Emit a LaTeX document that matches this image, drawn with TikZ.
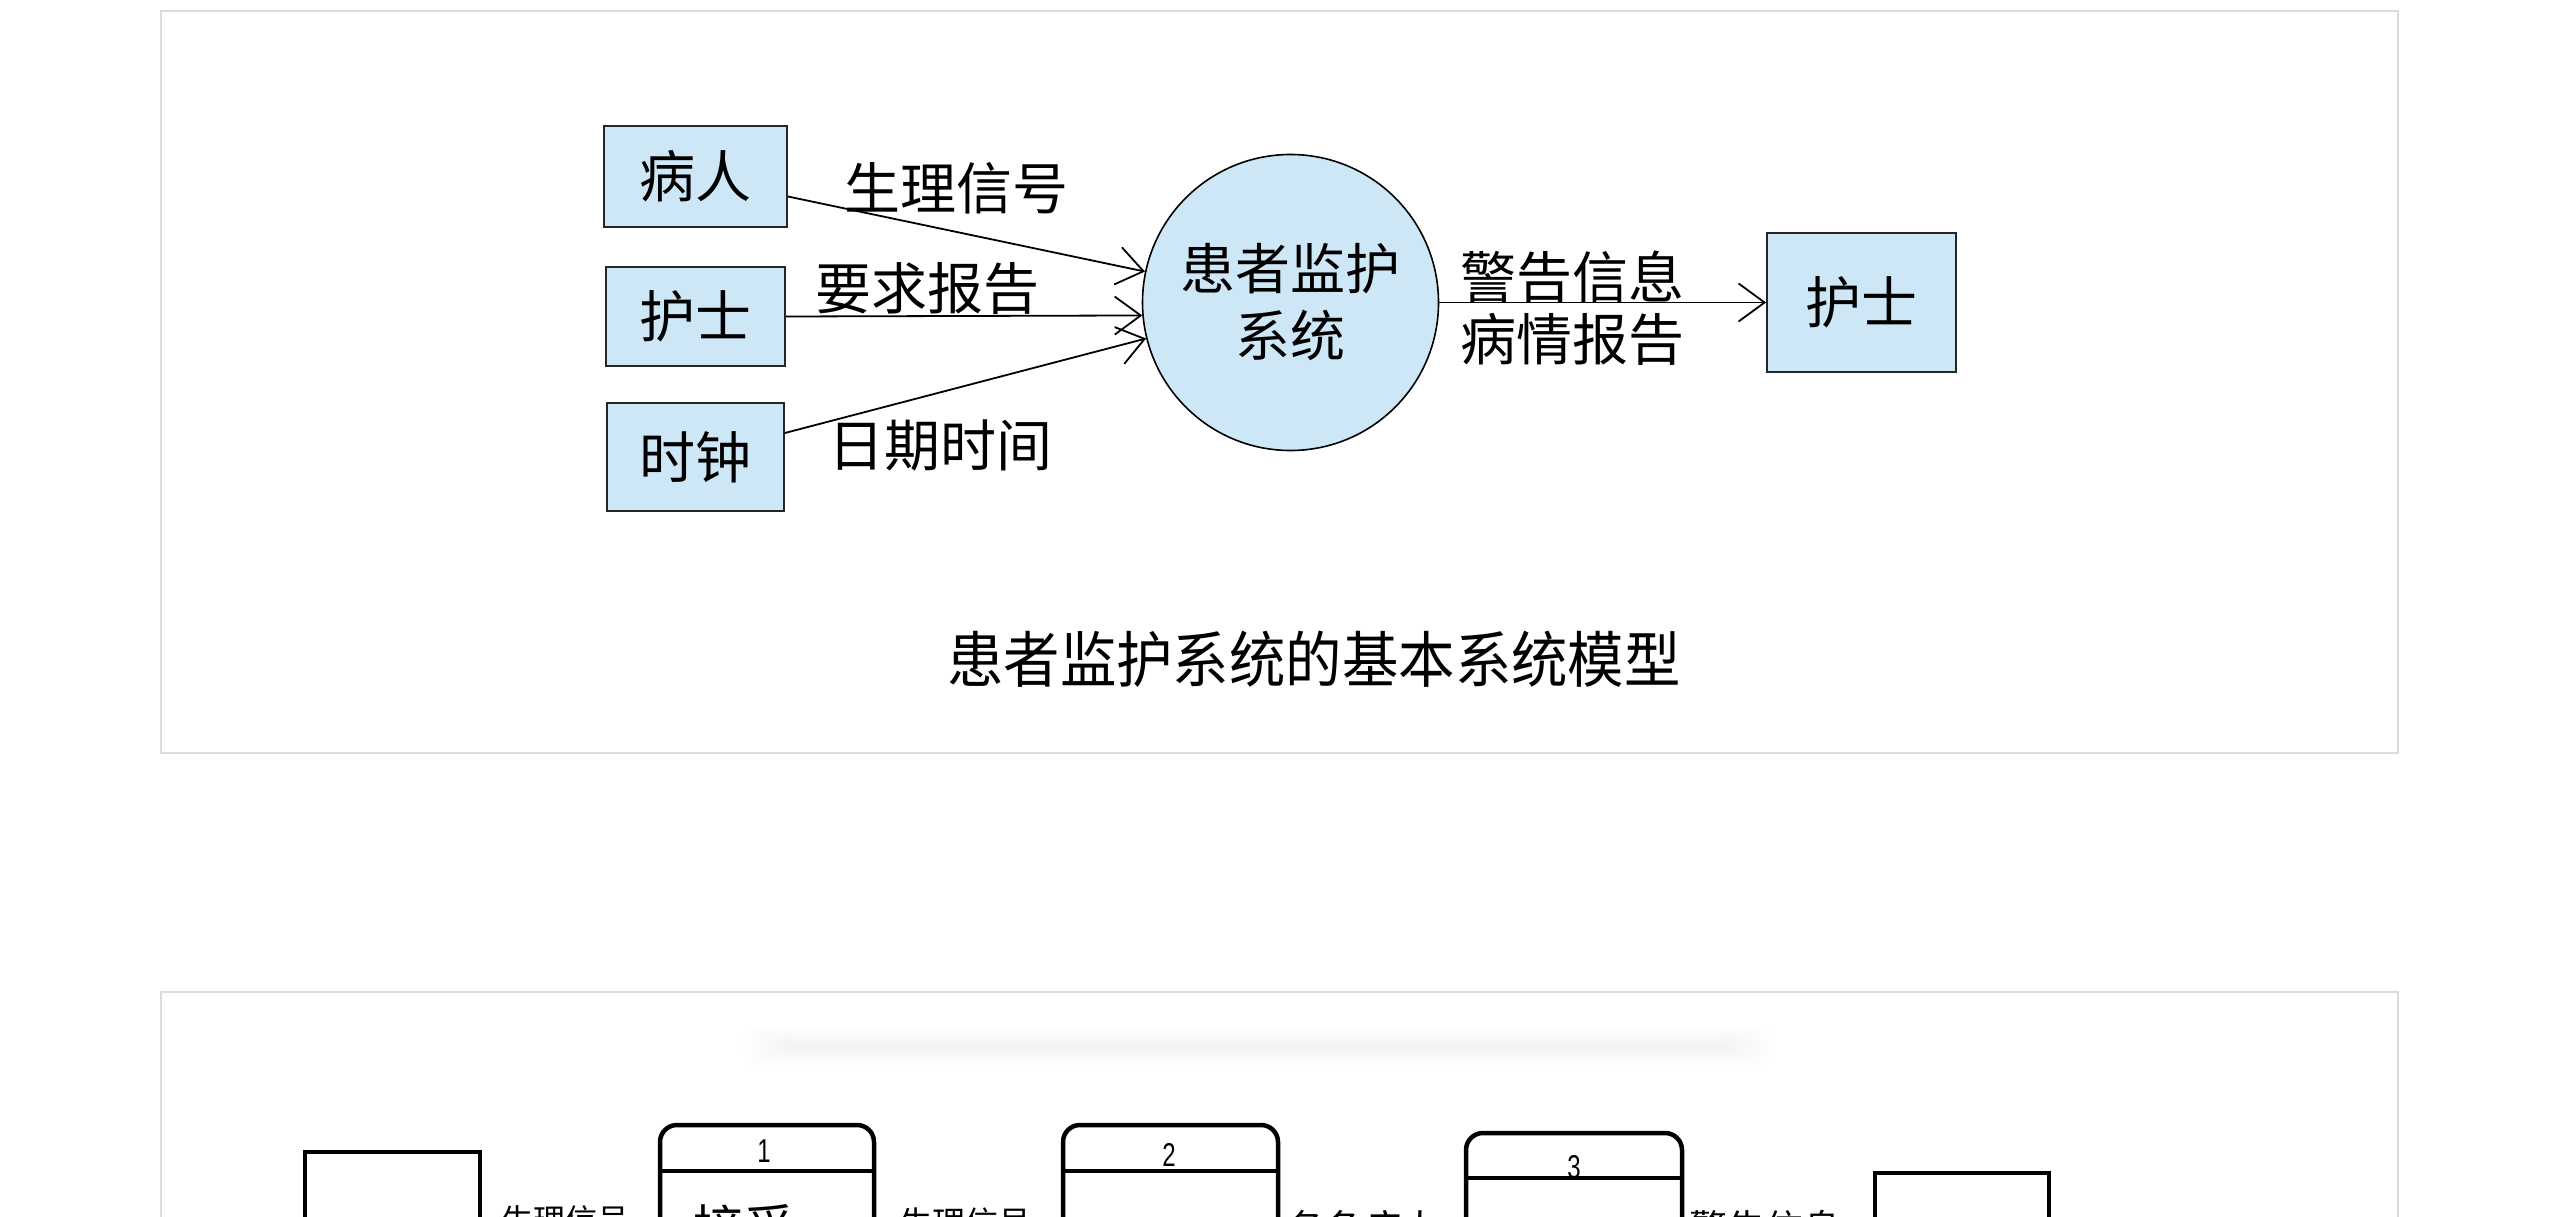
\documentclass[tikz,border=0pt]{standalone}
\usepackage{fontspec}
\setmainfont{Noto Sans CJK SC}
\newfontfamily\digitfont{Liberation Sans}
\usetikzlibrary{arrows.meta,calc}
\definecolor{boxblue}{HTML}{CEE7F6}
\definecolor{panelgray}{HTML}{DCDCDC}
\tikzset{
  panelline/.style={draw=panelgray, line width=2.5pt},
  entity/.style={draw=black!85, line width=1.8pt, fill=boxblue, inner sep=0pt,
    font=\fontsize{56pt}{60pt}\selectfont},
  procnode/.style={circle, draw=black, line width=1.6pt, fill=boxblue, inner sep=0pt,
    minimum size=296pt, align=center, font=\fontsize{55pt}{67pt}\selectfont},
  flow/.style={draw=black, line width=1.8pt,
    -{Straight Barb[length=26pt,width=38pt,line width=1.8pt]}},
  flowlabel/.style={inner sep=0pt, font=\fontsize{56pt}{60pt}\selectfont},
  titlelabel/.style={inner sep=0pt, font=\fontsize{61pt}{70pt}\selectfont},
  thickshape/.style={draw=black, line width=4.5pt, inner sep=0pt},
  thickproc/.style={draw=black, line width=4.5pt, inner sep=0pt, rounded corners=17pt},
  digitlabel/.style={inner sep=0pt, font=\digitfont\fontsize{30pt}{30pt}\selectfont},
  cutlabel/.style={inner sep=0pt, anchor=base}
}
\begin{document}
\begin{tikzpicture}[x=1pt,y=-1pt]
\useasboundingbox (0,0) rectangle (2560,1217);
\fill[white] (0,0) rectangle (2560,1217);

% ---------- top panel ----------
\draw[panelline] (161,11) rectangle (2398,753);

\node[entity, minimum width=183pt, minimum height=101pt] (patient) at (695.5,176.5) {病人};
\node[entity, minimum width=179pt, minimum height=99pt] (nurseL) at (695.5,316.5) {护士};
\node[entity, minimum width=177pt, minimum height=108pt] (clock) at (695.5,457) {时钟};
\node[procnode] (sys) at (1290.5,302.5) {患者监护\\系统};
\node[entity, minimum width=189pt, minimum height=139pt] (nurseR) at (1861.5,302.5) {护士};

\draw[flow] ([yshift=-20pt]patient.east) -- (sys.168.5);
\draw[flow] (nurseL.east) -- (sys.185);
\draw[flow] ([yshift=24pt]clock.east) -- (sys.194.5);
\draw[flow] (sys.east) -- (nurseR.west);

\node[flowlabel] (lsig) at (956,188) {生理信号};
\node[flowlabel] (lreq) at (927,288) {要求报告};
\node[flowlabel] (ltime) at (940,445) {日期时间};
\node[flowlabel] (lwarn) at (1572,277) {警告信息};
\node[flowlabel] (lrep) at (1572,339) {病情报告};

\node[titlelabel] (title) at (1314,659) {\scalebox{0.925}[1]{患者监护系统的基本系统模型}};

% ---------- bottom panel ----------
\draw[panelline] (161,992) rectangle (2398,1420);
\foreach \i in {0,...,11}{
  \fill[black, opacity=0.0035, rounded corners=14pt]
    (743+\i*4,1026+\i*1.8) rectangle (1772-\i*4,1066-\i*1.8);
}

\node[thickshape, minimum width=175pt, minimum height=268pt] (extA) at (392.5,1286) {};
\node[thickproc, minimum width=214pt, minimum height=295pt] (p1) at (767,1272.5) {};
\node[thickproc, minimum width=215pt, minimum height=295pt] (p2) at (1170.5,1272.5) {};
\node[thickproc, minimum width=216pt, minimum height=287pt] (p3) at (1574,1276.5) {};
\node[thickshape, minimum width=174pt, minimum height=247pt] (extB) at (1962,1296.5) {};

\draw[line width=4.5pt] ([yshift=-48pt]p1.north west) -- ([yshift=-48pt]p1.north east);
\draw[line width=4.5pt] ([yshift=-48pt]p2.north west) -- ([yshift=-48pt]p2.north east);
\draw[line width=4.5pt] ([yshift=-47pt]p3.north west) -- ([yshift=-47pt]p3.north east);

\node[digitlabel] (d1) at (764,1151) {\scalebox{0.8}[1.1]{1}};
\node[digitlabel] (d2) at (1169,1155) {\scalebox{0.8}[1.1]{2}};
\node[digitlabel] (d3) at (1574,1167) {\scalebox{0.8}[1.1]{3}};

\node[cutlabel, font=\fontsize{32pt}{32pt}\selectfont] (bsig1) at (565,1232) {生理信号};
\node[cutlabel, font=\fontsize{51pt}{51pt}\selectfont] (brecv) at (744,1247) {接受};
\node[cutlabel, font=\fontsize{33pt}{33pt}\selectfont] (bsig2) at (965,1235) {生理信号};
\node[cutlabel, font=\fontsize{38pt}{38pt}\selectfont] (bpat) at (1363,1242) {各条病人};
\node[cutlabel, font=\fontsize{38pt}{38pt}\selectfont] (bwarn) at (1765,1242) {警告信息};
\end{tikzpicture}
\end{document}
